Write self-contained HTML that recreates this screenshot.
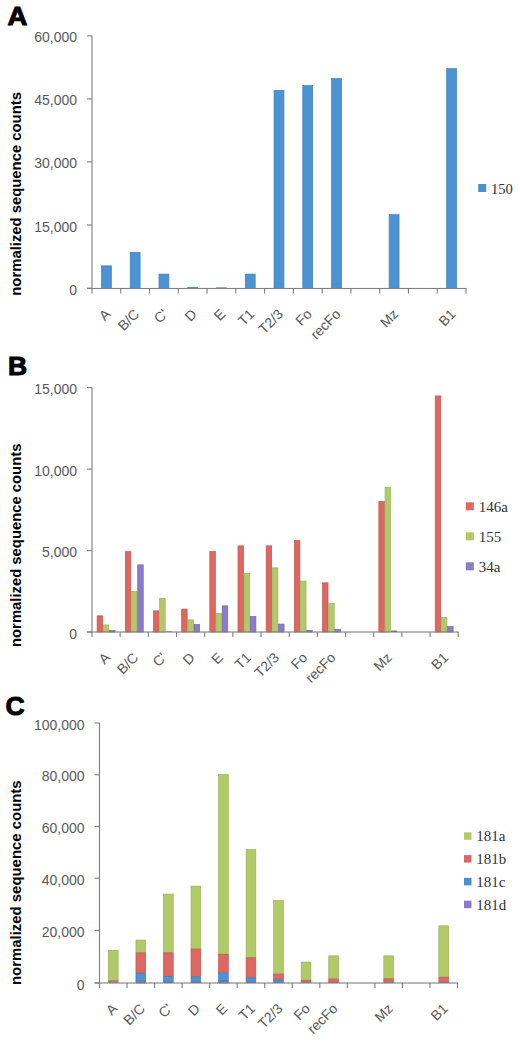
<!DOCTYPE html>
<html><head><meta charset="utf-8"><title>Figure</title>
<style>
html,body{margin:0;padding:0;background:#fff;}
body{width:520px;height:1042px;overflow:hidden;font-family:"Liberation Sans",sans-serif;}
svg{display:block;}
</style></head>
<body>
<svg width="520" height="1042" viewBox="0 0 520 1042">
<rect x="0" y="0" width="520" height="1042" fill="#fff"/>
<text x="0" y="0" font-family="Liberation Sans" font-weight="bold" font-size="26.5" fill="#000" stroke="#000" stroke-width="1" stroke-linejoin="miter" transform="translate(7.40,25.10) scale(1.04,1)">A</text>
<text x="0" y="0" font-family="Liberation Sans" font-weight="bold" font-size="15.3" fill="#000" text-anchor="middle" textLength="203.6" lengthAdjust="spacingAndGlyphs" transform="translate(21.20,193.90) rotate(-90)">normalized sequence counts</text>
<rect x="101.43" y="265.85" width="9.90" height="22.65" fill="#4c93d3" stroke="#3f7fb9" stroke-width="0.7"/>
<rect x="130.20" y="252.35" width="9.90" height="36.15" fill="#4c93d3" stroke="#3f7fb9" stroke-width="0.7"/>
<rect x="158.97" y="274.10" width="9.90" height="14.40" fill="#4c93d3" stroke="#3f7fb9" stroke-width="0.7"/>
<rect x="187.74" y="287.25" width="9.90" height="1.25" fill="#4c93d3" stroke="#3f7fb9" stroke-width="0.7"/>
<rect x="216.16" y="287.40" width="10.60" height="1.10" fill="#3f7fb9"/>
<rect x="245.28" y="274.10" width="9.90" height="14.40" fill="#4c93d3" stroke="#3f7fb9" stroke-width="0.7"/>
<rect x="274.05" y="90.35" width="9.90" height="198.15" fill="#4c93d3" stroke="#3f7fb9" stroke-width="0.7"/>
<rect x="302.82" y="85.60" width="9.90" height="202.90" fill="#4c93d3" stroke="#3f7fb9" stroke-width="0.7"/>
<rect x="331.59" y="78.60" width="9.90" height="209.90" fill="#4c93d3" stroke="#3f7fb9" stroke-width="0.7"/>
<rect x="389.13" y="214.60" width="9.90" height="73.90" fill="#4c93d3" stroke="#3f7fb9" stroke-width="0.7"/>
<rect x="446.67" y="68.60" width="9.90" height="219.90" fill="#4c93d3" stroke="#3f7fb9" stroke-width="0.7"/>
<rect x="91.45" y="35.90" width="1.10" height="253.15" fill="#7f7f7f"/>
<rect x="87.00" y="35.35" width="5.00" height="1.10" fill="#7f7f7f"/>
<text x="77.00" y="42.40" font-family="Liberation Sans" font-size="14" fill="#595959" text-anchor="end" font-weight="normal" >60,000</text>
<rect x="87.00" y="98.35" width="5.00" height="1.10" fill="#7f7f7f"/>
<text x="77.00" y="105.40" font-family="Liberation Sans" font-size="14" fill="#595959" text-anchor="end" font-weight="normal" >45,000</text>
<rect x="87.00" y="161.35" width="5.00" height="1.10" fill="#7f7f7f"/>
<text x="77.00" y="168.40" font-family="Liberation Sans" font-size="14" fill="#595959" text-anchor="end" font-weight="normal" >30,000</text>
<rect x="87.00" y="224.45" width="5.00" height="1.10" fill="#7f7f7f"/>
<text x="77.00" y="231.50" font-family="Liberation Sans" font-size="14" fill="#595959" text-anchor="end" font-weight="normal" >15,000</text>
<rect x="87.00" y="287.65" width="5.00" height="1.10" fill="#7f7f7f"/>
<text x="77.00" y="294.70" font-family="Liberation Sans" font-size="14" fill="#595959" text-anchor="end" font-weight="normal" >0</text>
<rect x="87.00" y="287.95" width="379.55" height="1.10" fill="#7f7f7f"/>
<rect x="91.45" y="288.50" width="1.10" height="5.00" fill="#7f7f7f"/>
<rect x="120.22" y="288.50" width="1.10" height="5.00" fill="#7f7f7f"/>
<rect x="148.99" y="288.50" width="1.10" height="5.00" fill="#7f7f7f"/>
<rect x="177.76" y="288.50" width="1.10" height="5.00" fill="#7f7f7f"/>
<rect x="206.53" y="288.50" width="1.10" height="5.00" fill="#7f7f7f"/>
<rect x="235.30" y="288.50" width="1.10" height="5.00" fill="#7f7f7f"/>
<rect x="264.07" y="288.50" width="1.10" height="5.00" fill="#7f7f7f"/>
<rect x="292.83" y="288.50" width="1.10" height="5.00" fill="#7f7f7f"/>
<rect x="321.60" y="288.50" width="1.10" height="5.00" fill="#7f7f7f"/>
<rect x="350.37" y="288.50" width="1.10" height="5.00" fill="#7f7f7f"/>
<rect x="379.14" y="288.50" width="1.10" height="5.00" fill="#7f7f7f"/>
<rect x="407.91" y="288.50" width="1.10" height="5.00" fill="#7f7f7f"/>
<rect x="436.68" y="288.50" width="1.10" height="5.00" fill="#7f7f7f"/>
<rect x="465.45" y="288.50" width="1.10" height="5.00" fill="#7f7f7f"/>
<text x="0" y="0" font-family="Liberation Sans" font-size="14" fill="#595959"  text-anchor="end" transform="translate(111.38,315.00) rotate(-45)">A</text>
<text x="0" y="0" font-family="Liberation Sans" font-size="14" fill="#595959"  text-anchor="end" transform="translate(140.15,315.00) rotate(-45)">B/C</text>
<text x="0" y="0" font-family="Liberation Sans" font-size="14" fill="#595959"  text-anchor="end" transform="translate(168.92,315.00) rotate(-45)">C&#39;</text>
<text x="0" y="0" font-family="Liberation Sans" font-size="14" fill="#595959"  text-anchor="end" transform="translate(197.69,315.00) rotate(-45)">D</text>
<text x="0" y="0" font-family="Liberation Sans" font-size="14" fill="#595959"  text-anchor="end" transform="translate(226.46,315.00) rotate(-45)">E</text>
<text x="0" y="0" font-family="Liberation Sans" font-size="14" fill="#595959"  text-anchor="end" transform="translate(255.23,315.00) rotate(-45)">T1</text>
<text x="0" y="0" font-family="Liberation Sans" font-size="14" fill="#595959"  text-anchor="end" transform="translate(284.00,315.00) rotate(-45)">T2/3</text>
<text x="0" y="0" font-family="Liberation Sans" font-size="14" fill="#595959"  text-anchor="end" transform="translate(312.77,315.00) rotate(-45)">Fo</text>
<text x="0" y="0" font-family="Liberation Sans" font-size="14" fill="#595959"  text-anchor="end" transform="translate(341.54,315.00) rotate(-45)">recFo</text>
<text x="0" y="0" font-family="Liberation Sans" font-size="14" fill="#595959"  text-anchor="end" transform="translate(399.08,315.00) rotate(-45)">Mz</text>
<text x="0" y="0" font-family="Liberation Sans" font-size="14" fill="#595959"  text-anchor="end" transform="translate(456.62,315.00) rotate(-45)">B1</text>
<rect x="478.20" y="184.00" width="8.00" height="8.00" fill="#4a8fd0"/>
<text x="491.00" y="194.40" font-family="Liberation Serif" font-size="14.6" fill="#333333" text-anchor="start" font-weight="normal" >150</text>
<text x="0" y="0" font-family="Liberation Sans" font-weight="bold" font-size="26.5" fill="#000" stroke="#000" stroke-width="1" stroke-linejoin="miter" transform="translate(8.00,375.10) scale(1.0,1)">B</text>
<text x="0" y="0" font-family="Liberation Sans" font-weight="bold" font-size="15.3" fill="#000" text-anchor="middle" textLength="203.4" lengthAdjust="spacingAndGlyphs" transform="translate(21.20,545.30) rotate(-90)">normalized sequence counts</text>
<rect x="97.14" y="615.85" width="5.50" height="16.15" fill="#dd6761" stroke="#bf5550" stroke-width="0.7"/>
<rect x="103.34" y="624.95" width="5.50" height="7.05" fill="#b0ca68" stroke="#9ab25a" stroke-width="0.7"/>
<rect x="109.54" y="630.55" width="5.50" height="1.45" fill="#8b7cc8" stroke="#7163ac" stroke-width="0.7"/>
<rect x="125.31" y="551.65" width="5.50" height="80.35" fill="#dd6761" stroke="#bf5550" stroke-width="0.7"/>
<rect x="131.51" y="591.60" width="5.50" height="40.40" fill="#b0ca68" stroke="#9ab25a" stroke-width="0.7"/>
<rect x="137.71" y="564.85" width="5.50" height="67.15" fill="#8b7cc8" stroke="#7163ac" stroke-width="0.7"/>
<rect x="153.48" y="610.85" width="5.50" height="21.15" fill="#dd6761" stroke="#bf5550" stroke-width="0.7"/>
<rect x="159.68" y="598.35" width="5.50" height="33.65" fill="#b0ca68" stroke="#9ab25a" stroke-width="0.7"/>
<rect x="165.53" y="631.40" width="6.20" height="0.60" fill="#7163ac"/>
<rect x="181.66" y="609.10" width="5.50" height="22.90" fill="#dd6761" stroke="#bf5550" stroke-width="0.7"/>
<rect x="187.86" y="619.85" width="5.50" height="12.15" fill="#b0ca68" stroke="#9ab25a" stroke-width="0.7"/>
<rect x="194.06" y="624.60" width="5.50" height="7.40" fill="#8b7cc8" stroke="#7163ac" stroke-width="0.7"/>
<rect x="209.83" y="551.60" width="5.50" height="80.40" fill="#dd6761" stroke="#bf5550" stroke-width="0.7"/>
<rect x="216.03" y="613.60" width="5.50" height="18.40" fill="#b0ca68" stroke="#9ab25a" stroke-width="0.7"/>
<rect x="222.23" y="605.85" width="5.50" height="26.15" fill="#8b7cc8" stroke="#7163ac" stroke-width="0.7"/>
<rect x="238.00" y="545.85" width="5.50" height="86.15" fill="#dd6761" stroke="#bf5550" stroke-width="0.7"/>
<rect x="244.20" y="573.60" width="5.50" height="58.40" fill="#b0ca68" stroke="#9ab25a" stroke-width="0.7"/>
<rect x="250.40" y="616.60" width="5.50" height="15.40" fill="#8b7cc8" stroke="#7163ac" stroke-width="0.7"/>
<rect x="266.18" y="545.85" width="5.50" height="86.15" fill="#dd6761" stroke="#bf5550" stroke-width="0.7"/>
<rect x="272.38" y="567.85" width="5.50" height="64.15" fill="#b0ca68" stroke="#9ab25a" stroke-width="0.7"/>
<rect x="278.57" y="624.10" width="5.50" height="7.90" fill="#8b7cc8" stroke="#7163ac" stroke-width="0.7"/>
<rect x="294.35" y="540.35" width="5.50" height="91.65" fill="#dd6761" stroke="#bf5550" stroke-width="0.7"/>
<rect x="300.55" y="581.10" width="5.50" height="50.90" fill="#b0ca68" stroke="#9ab25a" stroke-width="0.7"/>
<rect x="306.75" y="630.35" width="5.50" height="1.65" fill="#8b7cc8" stroke="#7163ac" stroke-width="0.7"/>
<rect x="322.52" y="582.85" width="5.50" height="49.15" fill="#dd6761" stroke="#bf5550" stroke-width="0.7"/>
<rect x="328.72" y="603.60" width="5.50" height="28.40" fill="#b0ca68" stroke="#9ab25a" stroke-width="0.7"/>
<rect x="334.92" y="629.60" width="5.50" height="2.40" fill="#8b7cc8" stroke="#7163ac" stroke-width="0.7"/>
<rect x="378.87" y="501.60" width="5.50" height="130.40" fill="#dd6761" stroke="#bf5550" stroke-width="0.7"/>
<rect x="385.07" y="487.25" width="5.50" height="144.75" fill="#b0ca68" stroke="#9ab25a" stroke-width="0.7"/>
<rect x="390.92" y="630.60" width="6.20" height="1.40" fill="#7163ac"/>
<rect x="435.21" y="395.95" width="5.50" height="236.05" fill="#dd6761" stroke="#bf5550" stroke-width="0.7"/>
<rect x="441.41" y="617.35" width="5.50" height="14.65" fill="#b0ca68" stroke="#9ab25a" stroke-width="0.7"/>
<rect x="447.61" y="626.60" width="5.50" height="5.40" fill="#8b7cc8" stroke="#7163ac" stroke-width="0.7"/>
<rect x="91.45" y="387.60" width="1.10" height="244.95" fill="#7f7f7f"/>
<rect x="87.00" y="387.05" width="5.00" height="1.10" fill="#7f7f7f"/>
<text x="77.00" y="394.10" font-family="Liberation Sans" font-size="14" fill="#595959" text-anchor="end" font-weight="normal" >15,000</text>
<rect x="87.00" y="468.55" width="5.00" height="1.10" fill="#7f7f7f"/>
<text x="77.00" y="475.60" font-family="Liberation Sans" font-size="14" fill="#595959" text-anchor="end" font-weight="normal" >10,000</text>
<rect x="87.00" y="550.05" width="5.00" height="1.10" fill="#7f7f7f"/>
<text x="77.00" y="557.10" font-family="Liberation Sans" font-size="14" fill="#595959" text-anchor="end" font-weight="normal" >5,000</text>
<rect x="87.00" y="631.45" width="5.00" height="1.10" fill="#7f7f7f"/>
<text x="77.00" y="638.50" font-family="Liberation Sans" font-size="14" fill="#595959" text-anchor="end" font-weight="normal" >0</text>
<rect x="87.00" y="631.45" width="371.80" height="1.10" fill="#7f7f7f"/>
<rect x="91.45" y="632.00" width="1.10" height="5.00" fill="#7f7f7f"/>
<rect x="119.62" y="632.00" width="1.10" height="5.00" fill="#7f7f7f"/>
<rect x="147.80" y="632.00" width="1.10" height="5.00" fill="#7f7f7f"/>
<rect x="175.97" y="632.00" width="1.10" height="5.00" fill="#7f7f7f"/>
<rect x="204.14" y="632.00" width="1.10" height="5.00" fill="#7f7f7f"/>
<rect x="232.32" y="632.00" width="1.10" height="5.00" fill="#7f7f7f"/>
<rect x="260.49" y="632.00" width="1.10" height="5.00" fill="#7f7f7f"/>
<rect x="288.66" y="632.00" width="1.10" height="5.00" fill="#7f7f7f"/>
<rect x="316.83" y="632.00" width="1.10" height="5.00" fill="#7f7f7f"/>
<rect x="345.01" y="632.00" width="1.10" height="5.00" fill="#7f7f7f"/>
<rect x="373.18" y="632.00" width="1.10" height="5.00" fill="#7f7f7f"/>
<rect x="401.35" y="632.00" width="1.10" height="5.00" fill="#7f7f7f"/>
<rect x="429.53" y="632.00" width="1.10" height="5.00" fill="#7f7f7f"/>
<rect x="457.70" y="632.00" width="1.10" height="5.00" fill="#7f7f7f"/>
<text x="0" y="0" font-family="Liberation Sans" font-size="14" fill="#595959"  text-anchor="end" transform="translate(111.09,658.50) rotate(-45)">A</text>
<text x="0" y="0" font-family="Liberation Sans" font-size="14" fill="#595959"  text-anchor="end" transform="translate(139.26,658.50) rotate(-45)">B/C</text>
<text x="0" y="0" font-family="Liberation Sans" font-size="14" fill="#595959"  text-anchor="end" transform="translate(167.43,658.50) rotate(-45)">C&#39;</text>
<text x="0" y="0" font-family="Liberation Sans" font-size="14" fill="#595959"  text-anchor="end" transform="translate(195.61,658.50) rotate(-45)">D</text>
<text x="0" y="0" font-family="Liberation Sans" font-size="14" fill="#595959"  text-anchor="end" transform="translate(223.78,658.50) rotate(-45)">E</text>
<text x="0" y="0" font-family="Liberation Sans" font-size="14" fill="#595959"  text-anchor="end" transform="translate(251.95,658.50) rotate(-45)">T1</text>
<text x="0" y="0" font-family="Liberation Sans" font-size="14" fill="#595959"  text-anchor="end" transform="translate(280.12,658.50) rotate(-45)">T2/3</text>
<text x="0" y="0" font-family="Liberation Sans" font-size="14" fill="#595959"  text-anchor="end" transform="translate(308.30,658.50) rotate(-45)">Fo</text>
<text x="0" y="0" font-family="Liberation Sans" font-size="14" fill="#595959"  text-anchor="end" transform="translate(336.47,658.50) rotate(-45)">recFo</text>
<text x="0" y="0" font-family="Liberation Sans" font-size="14" fill="#595959"  text-anchor="end" transform="translate(392.82,658.50) rotate(-45)">Mz</text>
<text x="0" y="0" font-family="Liberation Sans" font-size="14" fill="#595959"  text-anchor="end" transform="translate(449.16,658.50) rotate(-45)">B1</text>
<rect x="465.80" y="502.30" width="8.00" height="8.00" fill="#dd6761"/>
<text x="478.80" y="512.10" font-family="Liberation Serif" font-size="15" fill="#333333" text-anchor="start" font-weight="normal" >146a</text>
<rect x="465.80" y="532.30" width="8.00" height="8.00" fill="#b0ca68"/>
<text x="478.80" y="542.10" font-family="Liberation Serif" font-size="15" fill="#333333" text-anchor="start" font-weight="normal" >155</text>
<rect x="465.80" y="562.30" width="8.00" height="8.00" fill="#8b7cc8"/>
<text x="478.80" y="572.10" font-family="Liberation Serif" font-size="15" fill="#333333" text-anchor="start" font-weight="normal" >34a</text>
<text x="0" y="0" font-family="Liberation Sans" font-weight="bold" font-size="26.5" fill="#000" stroke="#000" stroke-width="1" stroke-linejoin="miter" transform="translate(5.40,715.10) scale(1.0,1)">C</text>
<text x="0" y="0" font-family="Liberation Sans" font-weight="bold" font-size="15.3" fill="#000" text-anchor="middle" textLength="204.6" lengthAdjust="spacingAndGlyphs" transform="translate(21.20,882.70) rotate(-90)">normalized sequence counts</text>
<rect x="108.42" y="950.35" width="9.70" height="30.15" fill="#b0ca68" stroke="#9ab25a" stroke-width="0.7"/>
<rect x="108.07" y="980.50" width="10.40" height="1.30" fill="#bf5550"/>
<rect x="108.07" y="981.80" width="10.40" height="0.60" fill="#3f7fb9"/>
<rect x="108.07" y="982.40" width="10.40" height="0.60" fill="#7163ac"/>
<rect x="135.96" y="940.10" width="9.70" height="12.40" fill="#b0ca68" stroke="#9ab25a" stroke-width="0.7"/>
<rect x="135.96" y="952.85" width="9.70" height="20.25" fill="#dd6761" stroke="#bf5550" stroke-width="0.7"/>
<rect x="135.96" y="973.45" width="9.70" height="7.35" fill="#4c93d3" stroke="#3f7fb9" stroke-width="0.7"/>
<rect x="135.96" y="981.15" width="9.70" height="1.85" fill="#8b7cc8" stroke="#7163ac" stroke-width="0.7"/>
<rect x="163.50" y="894.10" width="9.70" height="58.40" fill="#b0ca68" stroke="#9ab25a" stroke-width="0.7"/>
<rect x="163.50" y="952.85" width="9.70" height="23.40" fill="#dd6761" stroke="#bf5550" stroke-width="0.7"/>
<rect x="163.50" y="976.60" width="9.70" height="5.00" fill="#4c93d3" stroke="#3f7fb9" stroke-width="0.7"/>
<rect x="163.15" y="981.60" width="10.40" height="1.40" fill="#7163ac"/>
<rect x="191.03" y="886.10" width="9.70" height="62.65" fill="#b0ca68" stroke="#9ab25a" stroke-width="0.7"/>
<rect x="191.03" y="949.10" width="9.70" height="27.40" fill="#dd6761" stroke="#bf5550" stroke-width="0.7"/>
<rect x="191.03" y="976.85" width="9.70" height="4.75" fill="#4c93d3" stroke="#3f7fb9" stroke-width="0.7"/>
<rect x="190.68" y="981.60" width="10.40" height="1.40" fill="#7163ac"/>
<rect x="218.57" y="774.60" width="9.70" height="179.40" fill="#b0ca68" stroke="#9ab25a" stroke-width="0.7"/>
<rect x="218.57" y="954.35" width="9.70" height="18.40" fill="#dd6761" stroke="#bf5550" stroke-width="0.7"/>
<rect x="218.57" y="973.10" width="9.70" height="7.90" fill="#4c93d3" stroke="#3f7fb9" stroke-width="0.7"/>
<rect x="218.57" y="981.35" width="9.70" height="1.65" fill="#8b7cc8" stroke="#7163ac" stroke-width="0.7"/>
<rect x="246.11" y="849.60" width="9.70" height="107.90" fill="#b0ca68" stroke="#9ab25a" stroke-width="0.7"/>
<rect x="246.11" y="957.85" width="9.70" height="19.65" fill="#dd6761" stroke="#bf5550" stroke-width="0.7"/>
<rect x="246.11" y="977.85" width="9.70" height="3.95" fill="#4c93d3" stroke="#3f7fb9" stroke-width="0.7"/>
<rect x="245.76" y="981.80" width="10.40" height="1.20" fill="#7163ac"/>
<rect x="273.65" y="900.60" width="9.70" height="73.15" fill="#b0ca68" stroke="#9ab25a" stroke-width="0.7"/>
<rect x="273.65" y="974.10" width="9.70" height="5.40" fill="#dd6761" stroke="#bf5550" stroke-width="0.7"/>
<rect x="273.65" y="979.85" width="9.70" height="2.35" fill="#4c93d3" stroke="#3f7fb9" stroke-width="0.7"/>
<rect x="273.30" y="982.20" width="10.40" height="0.80" fill="#7163ac"/>
<rect x="301.19" y="962.10" width="9.70" height="17.90" fill="#b0ca68" stroke="#9ab25a" stroke-width="0.7"/>
<rect x="301.19" y="980.35" width="9.70" height="1.85" fill="#dd6761" stroke="#bf5550" stroke-width="0.7"/>
<rect x="300.84" y="982.20" width="10.40" height="0.40" fill="#3f7fb9"/>
<rect x="300.84" y="982.60" width="10.40" height="0.40" fill="#7163ac"/>
<rect x="328.73" y="955.85" width="9.70" height="22.90" fill="#b0ca68" stroke="#9ab25a" stroke-width="0.7"/>
<rect x="328.73" y="979.10" width="9.70" height="3.10" fill="#dd6761" stroke="#bf5550" stroke-width="0.7"/>
<rect x="328.38" y="982.20" width="10.40" height="0.40" fill="#3f7fb9"/>
<rect x="328.38" y="982.60" width="10.40" height="0.40" fill="#7163ac"/>
<rect x="383.80" y="955.85" width="9.70" height="22.65" fill="#b0ca68" stroke="#9ab25a" stroke-width="0.7"/>
<rect x="383.80" y="978.85" width="9.70" height="3.35" fill="#dd6761" stroke="#bf5550" stroke-width="0.7"/>
<rect x="383.45" y="982.20" width="10.40" height="0.40" fill="#3f7fb9"/>
<rect x="383.45" y="982.60" width="10.40" height="0.40" fill="#7163ac"/>
<rect x="438.88" y="925.85" width="9.70" height="51.15" fill="#b0ca68" stroke="#9ab25a" stroke-width="0.7"/>
<rect x="438.88" y="977.35" width="9.70" height="4.65" fill="#dd6761" stroke="#bf5550" stroke-width="0.7"/>
<rect x="438.53" y="982.00" width="10.40" height="0.60" fill="#3f7fb9"/>
<rect x="438.53" y="982.60" width="10.40" height="0.40" fill="#7163ac"/>
<rect x="98.95" y="723.00" width="1.10" height="260.55" fill="#7f7f7f"/>
<rect x="94.50" y="722.45" width="5.00" height="1.10" fill="#7f7f7f"/>
<text x="84.60" y="729.50" font-family="Liberation Sans" font-size="14" fill="#595959" text-anchor="end" font-weight="normal" >100,000</text>
<rect x="94.50" y="774.25" width="5.00" height="1.10" fill="#7f7f7f"/>
<text x="84.60" y="781.30" font-family="Liberation Sans" font-size="14" fill="#595959" text-anchor="end" font-weight="normal" >80,000</text>
<rect x="94.50" y="825.85" width="5.00" height="1.10" fill="#7f7f7f"/>
<text x="84.60" y="832.90" font-family="Liberation Sans" font-size="14" fill="#595959" text-anchor="end" font-weight="normal" >60,000</text>
<rect x="94.50" y="877.65" width="5.00" height="1.10" fill="#7f7f7f"/>
<text x="84.60" y="884.70" font-family="Liberation Sans" font-size="14" fill="#595959" text-anchor="end" font-weight="normal" >40,000</text>
<rect x="94.50" y="929.85" width="5.00" height="1.10" fill="#7f7f7f"/>
<text x="84.60" y="936.90" font-family="Liberation Sans" font-size="14" fill="#595959" text-anchor="end" font-weight="normal" >20,000</text>
<rect x="94.50" y="982.45" width="5.00" height="1.10" fill="#7f7f7f"/>
<text x="84.60" y="989.50" font-family="Liberation Sans" font-size="14" fill="#595959" text-anchor="end" font-weight="normal" >0</text>
<rect x="94.50" y="982.45" width="363.55" height="1.10" fill="#7f7f7f"/>
<rect x="98.95" y="983.00" width="1.10" height="5.00" fill="#7f7f7f"/>
<rect x="126.49" y="983.00" width="1.10" height="5.00" fill="#7f7f7f"/>
<rect x="154.03" y="983.00" width="1.10" height="5.00" fill="#7f7f7f"/>
<rect x="181.57" y="983.00" width="1.10" height="5.00" fill="#7f7f7f"/>
<rect x="209.10" y="983.00" width="1.10" height="5.00" fill="#7f7f7f"/>
<rect x="236.64" y="983.00" width="1.10" height="5.00" fill="#7f7f7f"/>
<rect x="264.18" y="983.00" width="1.10" height="5.00" fill="#7f7f7f"/>
<rect x="291.72" y="983.00" width="1.10" height="5.00" fill="#7f7f7f"/>
<rect x="319.26" y="983.00" width="1.10" height="5.00" fill="#7f7f7f"/>
<rect x="346.80" y="983.00" width="1.10" height="5.00" fill="#7f7f7f"/>
<rect x="374.33" y="983.00" width="1.10" height="5.00" fill="#7f7f7f"/>
<rect x="401.87" y="983.00" width="1.10" height="5.00" fill="#7f7f7f"/>
<rect x="429.41" y="983.00" width="1.10" height="5.00" fill="#7f7f7f"/>
<rect x="456.95" y="983.00" width="1.10" height="5.00" fill="#7f7f7f"/>
<text x="0" y="0" font-family="Liberation Sans" font-size="14" fill="#595959"  text-anchor="end" transform="translate(118.27,1009.50) rotate(-45)">A</text>
<text x="0" y="0" font-family="Liberation Sans" font-size="14" fill="#595959"  text-anchor="end" transform="translate(145.81,1009.50) rotate(-45)">B/C</text>
<text x="0" y="0" font-family="Liberation Sans" font-size="14" fill="#595959"  text-anchor="end" transform="translate(173.35,1009.50) rotate(-45)">C&#39;</text>
<text x="0" y="0" font-family="Liberation Sans" font-size="14" fill="#595959"  text-anchor="end" transform="translate(200.88,1009.50) rotate(-45)">D</text>
<text x="0" y="0" font-family="Liberation Sans" font-size="14" fill="#595959"  text-anchor="end" transform="translate(228.42,1009.50) rotate(-45)">E</text>
<text x="0" y="0" font-family="Liberation Sans" font-size="14" fill="#595959"  text-anchor="end" transform="translate(255.96,1009.50) rotate(-45)">T1</text>
<text x="0" y="0" font-family="Liberation Sans" font-size="14" fill="#595959"  text-anchor="end" transform="translate(283.50,1009.50) rotate(-45)">T2/3</text>
<text x="0" y="0" font-family="Liberation Sans" font-size="14" fill="#595959"  text-anchor="end" transform="translate(311.04,1009.50) rotate(-45)">Fo</text>
<text x="0" y="0" font-family="Liberation Sans" font-size="14" fill="#595959"  text-anchor="end" transform="translate(338.58,1009.50) rotate(-45)">recFo</text>
<text x="0" y="0" font-family="Liberation Sans" font-size="14" fill="#595959"  text-anchor="end" transform="translate(393.65,1009.50) rotate(-45)">Mz</text>
<text x="0" y="0" font-family="Liberation Sans" font-size="14" fill="#595959"  text-anchor="end" transform="translate(448.73,1009.50) rotate(-45)">B1</text>
<rect x="464.00" y="832.30" width="7.50" height="7.50" fill="#b0ca68"/>
<text x="476.30" y="841.10" font-family="Liberation Serif" font-size="15" fill="#333333" text-anchor="start" font-weight="normal" >181a</text>
<rect x="464.00" y="855.10" width="7.50" height="7.50" fill="#dd6761"/>
<text x="476.30" y="863.90" font-family="Liberation Serif" font-size="15" fill="#333333" text-anchor="start" font-weight="normal" >181b</text>
<rect x="464.00" y="877.90" width="7.50" height="7.50" fill="#4a8fd0"/>
<text x="476.30" y="886.70" font-family="Liberation Serif" font-size="15" fill="#333333" text-anchor="start" font-weight="normal" >181c</text>
<rect x="464.00" y="900.70" width="7.50" height="7.50" fill="#8b7cc8"/>
<text x="476.30" y="909.50" font-family="Liberation Serif" font-size="15" fill="#333333" text-anchor="start" font-weight="normal" >181d</text>
</svg>
</body></html>
